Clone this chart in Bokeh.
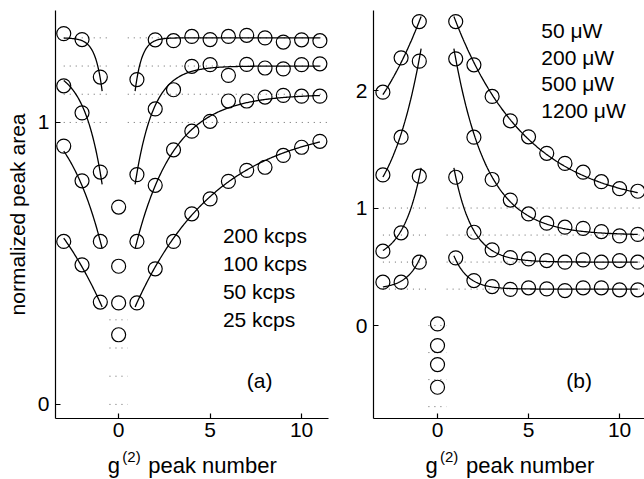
import numpy as np
from bokeh.plotting import figure
from bokeh.layouts import row, column
from bokeh.models import Range1d, FixedTicker, Label
from bokeh.core.properties import value
from bokeh.embed import file_html
from bokeh.resources import INLINE

# ---------------- data ----------------
peak_n = [-3, -2, -1, 0, 1, 2, 3, 4, 5, 6, 7, 8, 9, 10, 11]

# panel (a): normalized peak areas (offset by 0.1 per series)
kcps_labels = ["200 kcps", "100 kcps", "50 kcps", "25 kcps"]
kcps200 = [1.315, 1.294, 1.161, 0.70, 1.152, 1.293, 1.29, 1.305, 1.294, 1.305, 1.309, 1.30, 1.285, 1.293, 1.29]
kcps100 = [1.13, 1.034, 0.824, 0.49, 0.815, 1.048, 1.116, 1.199, 1.205, 1.167, 1.206, 1.193, 1.19, 1.205, 1.208]
kcps50 = [0.916, 0.793, 0.578, 0.36, 0.578, 0.777, 0.903, 0.969, 1.004, 1.076, 1.076, 1.09, 1.096, 1.093, 1.093]
kcps25 = [0.578, 0.495, 0.363, 0.247, 0.36, 0.481, 0.578, 0.676, 0.729, 0.791, 0.83, 0.841, 0.883, 0.912, 0.933]
a_baseline = [0.3, 0.2, 0.1, 0.0]
a_asymptote = [1.3, 1.2, 1.1, 1.0]
a_fit_dip = [0.145, 0.38, 0.522, 0.64]      # deficit at |n| = 1
a_fit_tau = [0.376, 1.0, 2.1, 4.5]

# panel (b)
uw_labels = ["50 \u03bcW", "200 \u03bcW", "500 \u03bcW", "1200 \u03bcW"]
uw50 = [1.986, 2.278, 2.587, 0.014, 2.587, 2.219, 1.95, 1.742, 1.606, 1.466, 1.38, 1.305, 1.224, 1.165, 1.143]
uw200 = [1.282, 1.603, 2.25, -0.17, 2.27, 1.603, 1.243, 1.068, 0.95, 0.871, 0.837, 0.827, 0.8, 0.763, 0.776]
uw500 = [0.633, 0.789, 1.271, -0.332, 1.262, 0.794, 0.644, 0.578, 0.567, 0.553, 0.539, 0.559, 0.539, 0.553, 0.539]
uw1200 = [0.369, 0.369, 0.539, -0.525, 0.576, 0.383, 0.332, 0.308, 0.321, 0.312, 0.298, 0.321, 0.321, 0.304, 0.304]
b_baseline = [0.0, -0.23, -0.46, -0.69]
b_asymptote = [1.0, 0.77, 0.54, 0.31]
b_fit_peak = [1.59, 1.5, 0.725, 0.25]       # excess at |n| = 1
b_fit_tau = [4.0, 1.8, 1.0, 0.77]

x_ticks = [0, 5, 10]
a_yticks = [0, 1]
b_yticks = [0, 1, 2]
xlabel_parts = ["g", "(2)", "peak number"]

FONT = "Liberation Sans"
FS = "21px"
MAIN_H = 447
STRIP_H = 479 - MAIN_H


def make_fig(width, border_left, border_right, xr, yr, yticks, ylabel):
    p = figure(width=width, height=MAIN_H, x_range=Range1d(*xr), y_range=Range1d(*yr),
               output_backend="svg", toolbar_location=None,
               min_border_left=border_left, min_border_right=border_right,
               min_border_top=10, min_border_bottom=MAIN_H - 418)
    p.outline_line_color = None
    p.grid.visible = False
    p.xaxis.ticker = FixedTicker(ticks=x_ticks)
    p.yaxis.ticker = FixedTicker(ticks=yticks)
    for ax in (p.xaxis, p.yaxis):
        ax.major_tick_in = 5
        ax.major_tick_out = 0
        ax.minor_tick_line_color = None
        ax.axis_line_color = "black"
        ax.axis_line_width = 1.2
        ax.major_tick_line_color = "black"
        ax.major_tick_line_width = 1.2
        ax.major_label_text_font = FONT
        ax.major_label_text_font_size = FS
        ax.major_label_text_color = "black"
        ax.major_label_standoff = 6
        ax.axis_label_text_font = FONT
        ax.axis_label_text_font_size = FS
        ax.axis_label_text_font_style = "normal"
        ax.axis_label_text_color = "black"
    p.xaxis.major_label_standoff = 4
    if ylabel:
        p.yaxis.axis_label = ylabel
        p.yaxis.axis_label_standoff = 6
    return p


def dotted(p, levels, zero_levels):
    for lv in levels:
        p.line([-3, -0.5], [lv, lv], line_color="#666666", line_dash="1 5", line_width=1)
        p.line([0.5, 11.4], [lv, lv], line_color="#666666", line_dash="1 5", line_width=1)
    for lv in zero_levels:
        p.line([-0.5, 0.5], [lv, lv], line_color="#666666", line_dash="1 5", line_width=1)


def circles(p, ys):
    p.scatter(peak_n, ys, marker="circle", size=14, fill_color=None,
              line_color="black", line_width=1.2)


# ---------------- panel (a) ----------------
pa = make_fig(330, 55, 2, (-3.45, 11.47), (-0.05, 1.397), a_yticks, "normalized peak area")
dotted(pa, a_asymptote, a_baseline)
left_x = np.linspace(-3, -0.9, 60)
right_x = np.linspace(0.9, 11, 200)
for asym, dip, tau in zip(a_asymptote, a_fit_dip, a_fit_tau):
    for xs in (left_x, right_x):
        pa.line(xs, asym - dip * np.exp(-(np.abs(xs) - 1) / tau), line_color="black", line_width=1.3)
for ys in (kcps200, kcps100, kcps50, kcps25):
    circles(pa, ys)
for i, t in enumerate(kcps_labels):
    pa.add_layout(Label(x=5.7, y=0.6 - 0.1 * i, text=t, text_font=FONT, text_font_size=FS,
                        text_baseline="middle", text_color="black"))
pa.add_layout(Label(x=7.0, y=0.085, text="(a)", text_font=FONT, text_font_size=FS,
                    text_baseline="middle", text_color="black"))

# ---------------- panel (b) ----------------
pb = make_fig(314, 43, 0, (-3.516, 11.37), (-0.791, 2.681), b_yticks, None)
dotted(pb, b_asymptote, b_baseline)
for asym, pk, tau in zip(b_asymptote, b_fit_peak, b_fit_tau):
    for xs in (left_x, right_x):
        pb.line(xs, asym + pk * np.exp(-(np.abs(xs) - 1) / tau), line_color="black", line_width=1.3)
for ys in (uw50, uw200, uw500, uw1200):
    circles(pb, ys)
for i, t in enumerate(uw_labels):
    pb.add_layout(Label(x=5.7, y=2.508 - 0.225 * i, text=t, text_font=FONT, text_font_size=FS,
                        text_baseline="middle", text_color="black"))
pb.add_layout(Label(x=7.07, y=-0.468, text="(b)", text_font=FONT, text_font_size=FS,
                    text_baseline="middle", text_color="black"))

# ---------------- x-axis labels strip: g^(2) peak number ----------------
strip = figure(width=644, height=STRIP_H, x_range=Range1d(0, 644),
               y_range=Range1d(479, MAIN_H),
               output_backend="svg", toolbar_location=None,
               x_axis_location=None, y_axis_location=None,
               min_border_left=0, min_border_right=0, min_border_top=0, min_border_bottom=0)
strip.outline_line_color = None
strip.grid.visible = False
strip.title.visible = False
for x0 in (107.3, 425.0):
    strip.text(x=[x0], y=[465], text=[xlabel_parts[0]], text_font=value(FONT),
               text_font_size="22px", text_color="black", text_baseline="alphabetic")
    strip.text(x=[x0 + 14.5], y=[455.5], text=[xlabel_parts[1]], text_font=value(FONT),
               text_font_size="15px", text_color="black", text_baseline="alphabetic")
    strip.text(x=[x0 + 40.5], y=[465], text=[xlabel_parts[2]], text_font=value(FONT),
               text_font_size="22px", text_color="black", text_baseline="alphabetic")

layout = column(row(pa, pb, spacing=0), strip, spacing=0)
open("out.html", "w").write(file_html(layout, INLINE))
